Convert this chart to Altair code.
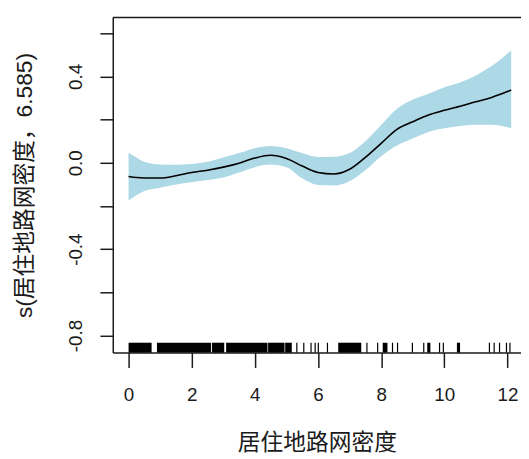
import altair as alt
import pandas as pd

# smooth term estimate and confidence band
xs = [0, 0.25, 0.5, 1, 1.5, 2, 2.5, 3, 3.5, 4, 4.5, 5, 5.5, 6, 6.5, 7, 7.5, 8, 8.5, 9, 9.5, 10, 10.5, 11, 11.5, 12, 12.12]
fit = [-0.063, -0.068, -0.07, -0.07, -0.06, -0.045, -0.034, -0.02, -0.002, 0.022, 0.035, 0.02, -0.015, -0.045, -0.052, -0.03, 0.025, 0.09, 0.155, 0.19, 0.222, 0.243, 0.262, 0.283, 0.303, 0.33, 0.337]
upper = [0.047, 0.025, 0.005, -0.008, -0.009, -0.005, 0.005, 0.025, 0.045, 0.068, 0.078, 0.068, 0.045, 0.027, 0.028, 0.045, 0.1, 0.175, 0.25, 0.293, 0.32, 0.35, 0.372, 0.405, 0.448, 0.505, 0.52]
lower = [-0.175, -0.15, -0.13, -0.115, -0.1, -0.09, -0.08, -0.068, -0.045, -0.02, -0.008, -0.02, -0.072, -0.103, -0.105, -0.085, -0.035, 0.03, 0.08, 0.113, 0.143, 0.16, 0.17, 0.176, 0.176, 0.165, 0.16]

# rug: isolated observations and dense clusters
rug_single = [5.33, 5.55, 5.78, 5.91, 6.01, 6.30, 7.55, 7.89, 8.36, 8.52, 8.99, 9.35, 9.85, 9.97, 11.43, 11.58, 11.75, 11.97, 12.08]
rug_block_start = [0.0, 0.90, 2.64, 3.09, 4.42, 4.96, 6.64, 8.05, 9.46, 10.40]
rug_block_end = [0.73, 2.61, 3.03, 4.40, 4.94, 5.17, 7.37, 8.20, 9.56, 10.50]

x_ticks = [0, 2, 4, 6, 8, 10, 12]
y_ticks = [-0.8, -0.6, -0.4, -0.2, 0.0, 0.2, 0.4, 0.6]

curve = pd.DataFrame({"x": xs, "fit": fit, "upper": upper, "lower": lower})
singles = pd.DataFrame({"x": rug_single})
blocks = pd.DataFrame({"x": rug_block_start, "x2": rug_block_end})
frame = pd.DataFrame({"k": [0]})

FONT = "Liberation Sans, Noto Sans CJK SC"
INK = "#1a1a1a"

xscale = alt.Scale(domain=[-0.5, 12.43], nice=False, zero=False)
yscale = alt.Scale(domain=[-0.879, 0.673], nice=False, zero=False)

xaxis = alt.Axis(
    values=x_ticks, title="居住地路网密度", grid=False,
    tickSize=15, tickWidth=1.5, tickColor=INK,
    domainColor=INK, domainWidth=1.5,
    labelFont="Liberation Sans", labelFontSize=19, labelColor=INK, labelPadding=18,
    labelOverlap=False, labelFlush=False,
    titleFont=FONT, titleFontSize=23, titleFontWeight="normal", titleColor=INK,
    titleBaseline="middle", titleY=91,
)
yaxis = alt.Axis(
    values=y_ticks, title="s(居住地路网密度，6.585)", grid=False,
    tickSize=13, tickWidth=1.5, tickColor=INK,
    domainColor=INK, domainWidth=1.5,
    labelFont="Liberation Sans", labelFontSize=19, labelColor=INK,
    labelAngle=270, labelAlign="center", labelBaseline="middle", labelPadding=25,
    labelOverlap=False, labelFlush=False,
    labelExpr="abs(round(datum.value*10)) % 4 == 0 ? (datum.value < -0.01 ? '-' : '') + format(abs(datum.value), '.1f') : ''",
    titleFont=FONT, titleFontSize=23, titleFontWeight="normal", titleColor=INK,
    titleAngle=270, titleAlign="center", titleBaseline="middle", titleX=-89, titleY=169.5,
)

band = alt.Chart(curve).mark_area(color="#ADD8E6", opacity=1, interpolate="monotone").encode(
    x=alt.X("x:Q", scale=xscale, axis=xaxis),
    y=alt.Y("upper:Q", scale=yscale, axis=yaxis),
    y2="lower:Q",
)
line = alt.Chart(curve).mark_line(color="black", strokeWidth=1.6, interpolate="monotone").encode(
    x=alt.X("x:Q", scale=xscale),
    y=alt.Y("fit:Q", scale=yscale),
)
rug_b = alt.Chart(blocks).mark_rect(color="black").encode(
    x=alt.X("x:Q", scale=xscale), x2="x2:Q",
    y=alt.value(329), y2=alt.value(339),
)
rug_s = alt.Chart(singles).mark_rule(color="black", strokeWidth=1.2).encode(
    x=alt.X("x:Q", scale=xscale),
    y=alt.value(329), y2=alt.value(339),
)
top = alt.Chart(frame).mark_rule(color=INK, strokeWidth=1.5).encode(y=alt.value(0))

chart = alt.layer(band, line, rug_b, rug_s, top).properties(
    width=413, height=339,
    autosize=alt.AutoSizeParams(type="none"),
    padding={"left": 106, "top": 7, "right": 0, "bottom": 103},
    background="white",
).configure_view(stroke=None)

chart.save("out.html", embed_options={"renderer": "svg", "actions": False})
